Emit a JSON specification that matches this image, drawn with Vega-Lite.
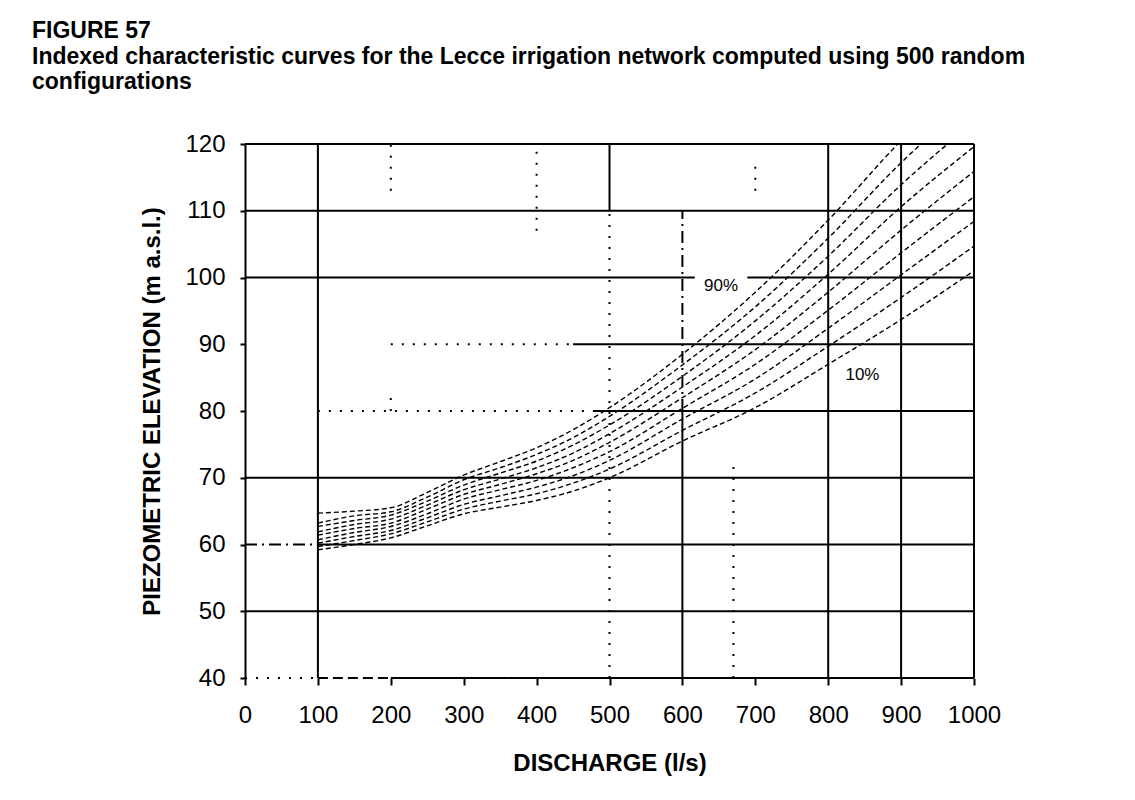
{
  "$schema": "https://vega.github.io/schema/vega-lite/v6.json",
  "autosize": "none",
  "width": 729,
  "height": 534,
  "padding": {"left": 245, "top": 144, "right": 161, "bottom": 122},
  "background": "white",
  "title": {
    "text": "FIGURE 57",
    "subtitle": ["Indexed characteristic curves for the Lecce irrigation network computed using 500 random", "configurations"],
    "anchor": "start",
    "frame": "group",
    "dx": -213,
    "offset": 38,
    "font": "Liberation Sans",
    "fontSize": 23,
    "fontWeight": "bold",
    "color": "black",
    "subtitleFont": "Liberation Sans",
    "subtitleFontSize": 23,
    "subtitleFontWeight": "bold",
    "subtitleColor": "black",
    "subtitleLineHeight": 25,
    "subtitlePadding": 3
  },
  "config": {
    "view": {"stroke": null},
    "axis": {
      "labelFont": "Liberation Sans",
      "labelFontSize": 24,
      "labelColor": "black",
      "titleFont": "Liberation Sans",
      "titleFontSize": 24,
      "titleFontWeight": "bold",
      "titleColor": "black",
      "tickColor": "black",
      "tickWidth": 2,
      "domainColor": "black",
      "domainWidth": 2,
      "grid": false,
      "labelOverlap": false,
      "labelFlush": false,
      "labelBound": false
    }
  },
  "datasets": {
    "curves": [
      {"q": 100, "h": 59.2, "p": "10%"}, {"q": 150, "h": 60.0, "p": "10%"}, {"q": 200, "h": 61.0, "p": "10%"}, {"q": 250, "h": 62.8, "p": "10%"}, {"q": 300, "h": 64.6, "p": "10%"}, {"q": 350, "h": 65.6, "p": "10%"}, {"q": 400, "h": 66.6, "p": "10%"}, {"q": 450, "h": 68.0, "p": "10%"}, {"q": 500, "h": 70.0, "p": "10%"}, {"q": 600, "h": 75.5, "p": "10%"}, {"q": 700, "h": 80.5, "p": "10%"}, {"q": 800, "h": 87.0, "p": "10%"}, {"q": 900, "h": 93.7, "p": "10%"}, {"q": 1000, "h": 101.0, "p": "10%"},
      {"q": 100, "h": 59.7, "p": "20%"}, {"q": 150, "h": 60.6, "p": "20%"}, {"q": 200, "h": 61.6, "p": "20%"}, {"q": 250, "h": 63.4, "p": "20%"}, {"q": 300, "h": 65.3, "p": "20%"}, {"q": 350, "h": 66.5, "p": "20%"}, {"q": 400, "h": 67.6, "p": "20%"}, {"q": 450, "h": 69.2, "p": "20%"}, {"q": 500, "h": 71.3, "p": "20%"}, {"q": 600, "h": 77.1, "p": "20%"}, {"q": 700, "h": 82.7, "p": "20%"}, {"q": 800, "h": 89.7, "p": "20%"}, {"q": 900, "h": 97.0, "p": "20%"}, {"q": 1000, "h": 104.7, "p": "20%"},
      {"q": 100, "h": 60.2, "p": "30%"}, {"q": 150, "h": 61.2, "p": "30%"}, {"q": 200, "h": 62.1, "p": "30%"}, {"q": 250, "h": 64.0, "p": "30%"}, {"q": 300, "h": 66.0, "p": "30%"}, {"q": 350, "h": 67.3, "p": "30%"}, {"q": 400, "h": 68.6, "p": "30%"}, {"q": 450, "h": 70.3, "p": "30%"}, {"q": 500, "h": 72.6, "p": "30%"}, {"q": 600, "h": 78.8, "p": "30%"}, {"q": 700, "h": 84.8, "p": "30%"}, {"q": 800, "h": 92.4, "p": "30%"}, {"q": 900, "h": 100.4, "p": "30%"}, {"q": 1000, "h": 108.4, "p": "30%"},
      {"q": 100, "h": 60.7, "p": "40%"}, {"q": 150, "h": 61.8, "p": "40%"}, {"q": 200, "h": 62.7, "p": "40%"}, {"q": 250, "h": 64.6, "p": "40%"}, {"q": 300, "h": 66.8, "p": "40%"}, {"q": 350, "h": 68.2, "p": "40%"}, {"q": 400, "h": 69.6, "p": "40%"}, {"q": 450, "h": 71.5, "p": "40%"}, {"q": 500, "h": 73.9, "p": "40%"}, {"q": 600, "h": 80.4, "p": "40%"}, {"q": 700, "h": 87.0, "p": "40%"}, {"q": 800, "h": 95.1, "p": "40%"}, {"q": 900, "h": 103.7, "p": "40%"}, {"q": 1000, "h": 112.1, "p": "40%"},
      {"q": 100, "h": 61.4, "p": "50%"}, {"q": 150, "h": 62.4, "p": "50%"}, {"q": 200, "h": 63.2, "p": "50%"}, {"q": 250, "h": 65.3, "p": "50%"}, {"q": 300, "h": 67.5, "p": "50%"}, {"q": 350, "h": 69.0, "p": "50%"}, {"q": 400, "h": 70.6, "p": "50%"}, {"q": 450, "h": 72.6, "p": "50%"}, {"q": 500, "h": 75.3, "p": "50%"}, {"q": 600, "h": 82.0, "p": "50%"}, {"q": 700, "h": 89.2, "p": "50%"}, {"q": 800, "h": 97.8, "p": "50%"}, {"q": 900, "h": 107.1, "p": "50%"}, {"q": 1000, "h": 115.9, "p": "50%"},
      {"q": 100, "h": 61.9, "p": "60%"}, {"q": 150, "h": 63.0, "p": "60%"}, {"q": 200, "h": 63.8, "p": "60%"}, {"q": 250, "h": 65.9, "p": "60%"}, {"q": 300, "h": 68.2, "p": "60%"}, {"q": 350, "h": 69.8, "p": "60%"}, {"q": 400, "h": 71.5, "p": "60%"}, {"q": 450, "h": 73.7, "p": "60%"}, {"q": 500, "h": 76.6, "p": "60%"}, {"q": 600, "h": 83.6, "p": "60%"}, {"q": 700, "h": 91.3, "p": "60%"}, {"q": 800, "h": 100.5, "p": "60%"}, {"q": 900, "h": 110.6, "p": "60%"}, {"q": 1000, "h": 119.6, "p": "60%"},
      {"q": 100, "h": 62.7, "p": "70%"}, {"q": 150, "h": 63.6, "p": "70%"}, {"q": 200, "h": 64.4, "p": "70%"}, {"q": 250, "h": 66.5, "p": "70%"}, {"q": 300, "h": 68.9, "p": "70%"}, {"q": 350, "h": 70.7, "p": "70%"}, {"q": 400, "h": 72.5, "p": "70%"}, {"q": 450, "h": 74.9, "p": "70%"}, {"q": 500, "h": 77.9, "p": "70%"}, {"q": 600, "h": 85.2, "p": "70%"}, {"q": 700, "h": 93.5, "p": "70%"}, {"q": 800, "h": 103.2, "p": "70%"}, {"q": 900, "h": 113.9, "p": "70%"}, {"q": 1000, "h": 123.3, "p": "70%"},
      {"q": 100, "h": 63.2, "p": "80%"}, {"q": 150, "h": 64.3, "p": "80%"}, {"q": 200, "h": 64.9, "p": "80%"}, {"q": 250, "h": 67.1, "p": "80%"}, {"q": 300, "h": 69.7, "p": "80%"}, {"q": 350, "h": 71.5, "p": "80%"}, {"q": 400, "h": 73.5, "p": "80%"}, {"q": 450, "h": 76.0, "p": "80%"}, {"q": 500, "h": 79.2, "p": "80%"}, {"q": 600, "h": 86.9, "p": "80%"}, {"q": 700, "h": 95.6, "p": "80%"}, {"q": 800, "h": 105.9, "p": "80%"}, {"q": 900, "h": 117.2, "p": "80%"}, {"q": 1000, "h": 127.0, "p": "80%"},
      {"q": 100, "h": 64.7, "p": "90%"}, {"q": 150, "h": 65.0, "p": "90%"}, {"q": 200, "h": 65.5, "p": "90%"}, {"q": 250, "h": 67.8, "p": "90%"}, {"q": 300, "h": 70.4, "p": "90%"}, {"q": 350, "h": 72.4, "p": "90%"}, {"q": 400, "h": 74.5, "p": "90%"}, {"q": 450, "h": 77.2, "p": "90%"}, {"q": 500, "h": 80.5, "p": "90%"}, {"q": 600, "h": 88.5, "p": "90%"}, {"q": 700, "h": 97.8, "p": "90%"}, {"q": 800, "h": 108.6, "p": "90%"}, {"q": 900, "h": 120.5, "p": "90%"}, {"q": 1000, "h": 130.7, "p": "90%"}
    ],
    "hgrid": [
      {"y": 120, "x1": 0, "x2": 1000, "s": "solid"},
      {"y": 110, "x1": 0, "x2": 1000, "s": "solid"},
      {"y": 100, "x1": 0, "x2": 617, "s": "solid"},
      {"y": 100, "x1": 689, "x2": 1000, "s": "solid"},
      {"y": 90, "x1": 200, "x2": 450, "s": "dotted"},
      {"y": 90, "x1": 450, "x2": 1000, "s": "solid"},
      {"y": 80, "x1": 100, "x2": 480, "s": "dotted"},
      {"y": 80, "x1": 480, "x2": 1000, "s": "solid"},
      {"y": 70, "x1": 0, "x2": 1000, "s": "solid"},
      {"y": 60, "x1": 0, "x2": 100, "s": "dashdot"},
      {"y": 60, "x1": 100, "x2": 1000, "s": "solid"},
      {"y": 50, "x1": 0, "x2": 1000, "s": "solid"},
      {"y": 40, "x1": 0, "x2": 100, "s": "dotted"},
      {"y": 40, "x1": 100, "x2": 200, "s": "dashed"},
      {"y": 40, "x1": 200, "x2": 1000, "s": "solid"}
    ],
    "vgrid": [
      {"x": 100, "y1": 40, "y2": 120, "s": "solid"},
      {"x": 200, "y1": 113, "y2": 120, "s": "dotted"},
      {"x": 200, "y1": 80, "y2": 83, "s": "dotted"},
      {"x": 400, "y1": 107, "y2": 120, "s": "dotted"},
      {"x": 500, "y1": 110, "y2": 120, "s": "solid"},
      {"x": 500, "y1": 40, "y2": 110, "s": "dotted"},
      {"x": 600, "y1": 80, "y2": 110, "s": "dashdot"},
      {"x": 600, "y1": 40, "y2": 80, "s": "solid"},
      {"x": 670, "y1": 40, "y2": 72, "s": "dotted"},
      {"x": 700, "y1": 113, "y2": 117, "s": "dotted"},
      {"x": 800, "y1": 40, "y2": 120, "s": "solid"},
      {"x": 900, "y1": 40, "y2": 120, "s": "solid"},
      {"x": 1000, "y1": 40, "y2": 120, "s": "solid"}
    ],
    "labels": [
      {"q": 653, "h": 98.8, "t": "90%"},
      {"q": 847, "h": 85.4, "t": "10%"}
    ]
  },
  "layer": [
    {
      "data": {"name": "hgrid"},
      "mark": {"type": "rule", "color": "black", "strokeWidth": 2},
      "encoding": {
        "x": {"field": "x1", "type": "quantitative", "scale": {"domain": [0, 1000], "nice": false},
          "axis": {"values": [0, 100, 200, 300, 400, 500, 600, 700, 800, 900, 1000], "format": "d", "domain": false, "tickSize": 7, "labelPadding": 18, "title": "DISCHARGE (l/s)", "titlePadding": 24}},
        "x2": {"field": "x2"},
        "y": {"field": "y", "type": "quantitative", "scale": {"domain": [40, 120], "nice": false},
          "axis": {"values": [40, 50, 60, 70, 80, 90, 100, 110, 120], "format": "d", "tickSize": 5, "labelPadding": 15, "title": "PIEZOMETRIC ELEVATION (m a.s.l.)", "titlePadding": 20}},
        "strokeDash": {"field": "s", "type": "nominal", "legend": null,
          "scale": {"domain": ["solid", "dotted", "dashed", "dashdot"], "range": [[1, 0], [2, 9], [10, 5], [12, 5, 2, 5]]}}
      }
    },
    {
      "data": {"name": "vgrid"},
      "mark": {"type": "rule", "color": "black", "strokeWidth": 2},
      "encoding": {
        "x": {"field": "x", "type": "quantitative"},
        "y": {"field": "y1", "type": "quantitative"},
        "y2": {"field": "y2"},
        "strokeDash": {"field": "s", "type": "nominal", "legend": null}
      }
    },
    {
      "data": {"name": "curves"},
      "mark": {"type": "line", "color": "black", "strokeWidth": 1.4, "strokeDash": [5, 3], "interpolate": "monotone", "clip": true},
      "encoding": {
        "x": {"field": "q", "type": "quantitative"},
        "y": {"field": "h", "type": "quantitative"},
        "detail": {"field": "p", "type": "nominal"}
      }
    },
    {
      "data": {"name": "labels"},
      "mark": {"type": "text", "font": "Liberation Sans", "fontSize": 17, "color": "black", "align": "center", "baseline": "middle"},
      "encoding": {
        "x": {"field": "q", "type": "quantitative"},
        "y": {"field": "h", "type": "quantitative"},
        "text": {"field": "t"}
      }
    }
  ]
}
